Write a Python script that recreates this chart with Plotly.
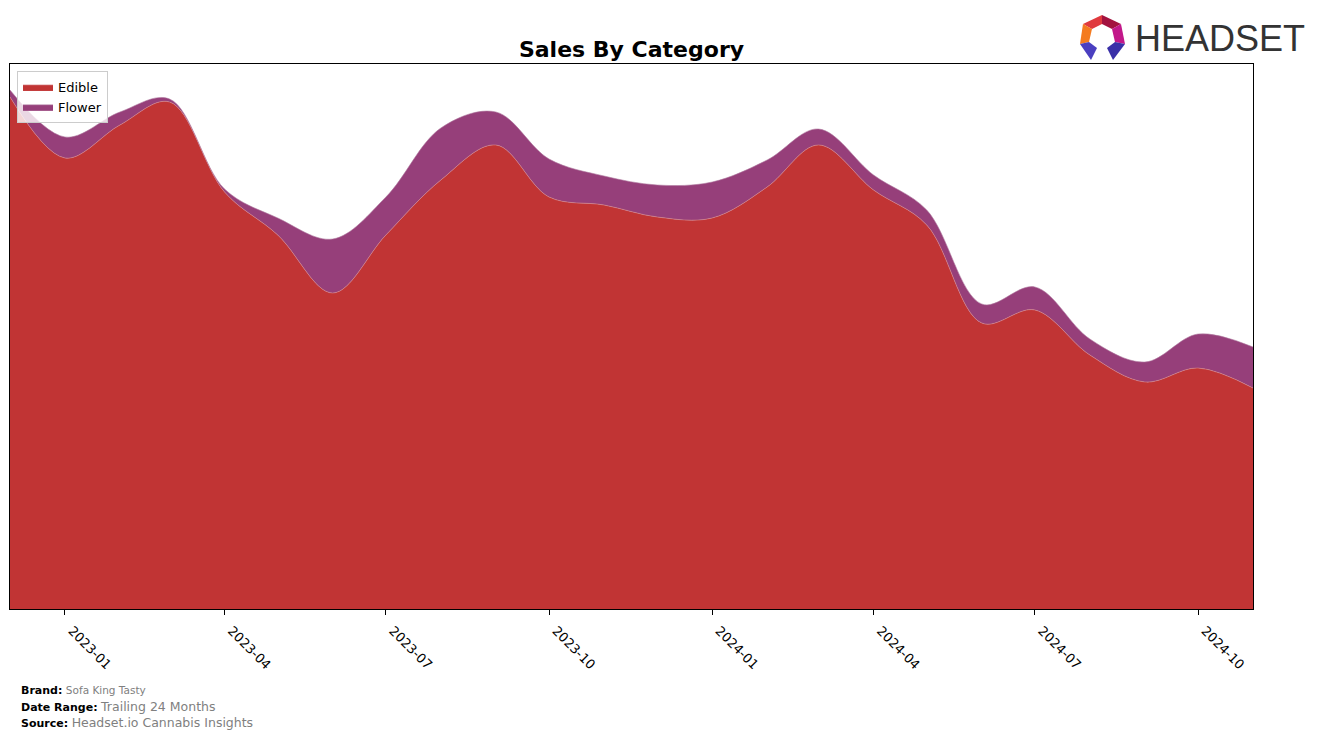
import plotly.graph_objects as go

months = ["2022-12-01", "2023-01-01", "2023-02-01", "2023-03-01", "2023-04-01", "2023-05-01",
          "2023-06-01", "2023-07-01", "2023-08-01", "2023-09-01", "2023-10-01", "2023-11-01",
          "2023-12-01", "2024-01-01", "2024-02-01", "2024-03-01", "2024-04-01", "2024-05-01",
          "2024-06-01", "2024-07-01", "2024-08-01", "2024-09-01", "2024-10-01", "2024-11-01"]
edible = [512, 451, 484, 507, 417, 374, 316, 374, 429, 464, 412, 404,
          392, 391, 422, 464, 419, 384, 286, 299, 254, 227, 241, 221]
flower = [7, 21, 13, 3, 3, 17, 54, 38, 52, 33, 38, 29,
          32, 36, 27, 16, 15, 15, 19, 23, 16, 20, 34, 41]
tick_vals = ["2023-01-01", "2023-04-01", "2023-07-01", "2023-10-01",
             "2024-01-01", "2024-04-01", "2024-07-01", "2024-10-01"]
tick_text = ["2023-01", "2023-04", "2023-07", "2023-10",
             "2024-01", "2024-04", "2024-07", "2024-10"]

W, H = 1317, 738
L, R, T, B = 10, 1253, 64, 609

def px(x):
    return (x - L) / (R - L)

def py(y):
    return (B - y) / (B - T)

fig = go.Figure()
fig.add_trace(go.Scatter(x=months, y=edible, name="Edible", stackgroup="one", mode="lines",
                         line=dict(shape="spline", smoothing=1.0, width=0.6, color="#d9888a"),
                         fillcolor="#c13434"))
fig.add_trace(go.Scatter(x=months, y=flower, name="Flower", stackgroup="one", mode="lines",
                         line=dict(shape="spline", smoothing=1.0, width=0.6, color="#b07aa0"),
                         fillcolor="#963f7a"))

def path(points):
    return "M " + " L ".join(f"{px(a):.5f},{py(b):.5f}" for a, b in points) + " Z"

segs = [
    ([(1083, 24), (1102, 15), (1102, 24), (1092, 29)], "#e03a3e"),
    ([(1102, 15), (1121, 24), (1112, 29), (1102, 24)], "#a3123f"),
    ([(1121, 24), (1125, 44), (1115, 42), (1112, 29)], "#c2188a"),
    ([(1083, 24), (1092, 29), (1089, 42), (1080, 44)], "#f47b20"),
    ([(1080, 44), (1089, 42), (1097, 48), (1091, 60)], "#4a3fc0"),
    ([(1125, 44), (1115, 42), (1107, 48), (1113, 60)], "#3a30a8"),
]
shapes = []
for pts, col in segs:
    shapes.append(dict(type="path", xref="paper", yref="paper", path=path(pts),
                       fillcolor=col, line=dict(width=0), layer="above"))

foot_x = px(19)
annotations = [
    dict(text="HEADSET", x=px(1133), y=py(38), xref="paper", yref="paper", xanchor="left",
         yanchor="middle", showarrow=False,
         font=dict(family="Liberation Sans Narrow, Liberation Sans, Arial, sans-serif", size=36,
                   color="#333333")),
    dict(text="<b>Brand:</b> <span style='color:#808080;font-size:10.5px'>Sofa King Tasty</span>",
         x=foot_x, y=py(690), xref="paper", yref="paper", xanchor="left", yanchor="middle",
         showarrow=False, font=dict(family="DejaVu Sans", size=11, color="black")),
    dict(text="<b>Date Range:</b> <span style='color:#808080;font-size:12.5px'>Trailing 24 Months</span>",
         x=foot_x, y=py(706), xref="paper", yref="paper", xanchor="left", yanchor="middle",
         showarrow=False, font=dict(family="DejaVu Sans", size=11, color="black")),
    dict(text="<b>Source:</b> <span style='color:#808080;font-size:12.5px'>Headset.io Cannabis Insights</span>",
         x=foot_x, y=py(722), xref="paper", yref="paper", xanchor="left", yanchor="middle",
         showarrow=False, font=dict(family="DejaVu Sans", size=11, color="black")),
]

fig.update_layout(
    width=W, height=H,
    margin=dict(l=L, r=W - R, t=T, b=H - B),
    paper_bgcolor="white", plot_bgcolor="white",
    title=dict(text="<b>Sales By Category</b>", x=(L + R) / 2 / W, y=1 - 49 / H,
               xanchor="center", yanchor="middle",
               font=dict(family="DejaVu Sans", size=22, color="black")),
    showlegend=True,
    legend=dict(x=px(17), y=py(71), xanchor="left", yanchor="top",
                bgcolor="rgba(255,255,255,0.8)", bordercolor="#cccccc", borderwidth=1,
                font=dict(family="DejaVu Sans", size=13, color="black"),
                tracegroupgap=0, traceorder="normal", itemwidth=30),
    shapes=shapes,
    annotations=annotations,
    hovermode=False,
)
fig.update_xaxes(type="date", range=[months[0], months[-1]], tickvals=tick_vals, ticktext=tick_text,
                 tickangle=45, ticks="outside", ticklen=5, tickcolor="black",
                 ticklabelshift=7, ticklabelstandoff=3,
                 showline=True, linecolor="black", linewidth=1, mirror=True, showgrid=False,
                 zeroline=False, tickfont=dict(family="DejaVu Sans", size=13, color="black"))
fig.update_yaxes(range=[0, B - T], showticklabels=False, ticks="", showline=True, linecolor="black",
                 linewidth=1, mirror=True, showgrid=False, zeroline=False)

fig.write_html("out.html")
